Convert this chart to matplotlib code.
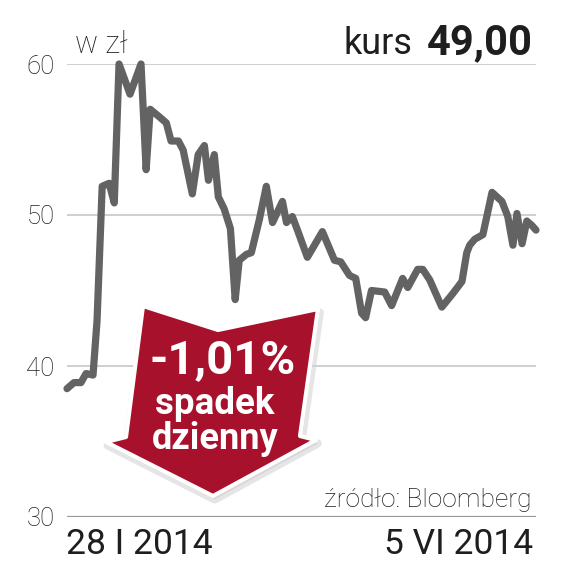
import matplotlib
matplotlib.use('Agg')
import matplotlib.pyplot as plt
from matplotlib.patches import Polygon

# days since 28 I 2014 and closing price (zl)
days = [0, 1.9, 3.8, 5.2, 7.1, 8.2, 9.6, 11.5, 12.9, 14.2, 17.2, 20.2, 21.6, 22.7,
        25.2, 27.1, 28.4, 30.4, 31.7, 34.2, 35.8, 37.5, 38.6, 40.2, 41.3, 42.9,
        44.6, 45.9, 47.0, 49.0, 50.3, 52.5, 54.4, 56.1, 58.8, 59.9, 61.5, 62.9,
        65.6, 69.7, 73.0, 74.7, 77.1, 78.8, 80.4, 81.5, 83.1, 86.7, 88.6, 91.6,
        93.0, 95.7, 97.1, 99.0, 102.3, 105.3, 107.8, 109.1, 109.9, 111.3, 113.5,
        116.0, 118.7, 120.3, 121.7, 122.8, 124.2, 125.5, 126.9, 128.0]
price = [38.5, 38.9, 38.9, 39.5, 39.4, 43.0, 51.9, 52.1, 50.8, 60.0, 58.0, 60.0,
         53.0, 57.0, 56.5, 56.1, 54.9, 54.9, 54.3, 51.4, 54.0, 54.6, 52.3, 54.0,
         51.2, 50.4, 49.1, 44.4, 47.0, 47.4, 47.5, 49.7, 51.9, 49.5, 50.9, 49.5,
         49.9, 49.0, 47.2, 48.9, 47.0, 46.9, 46.0, 45.8, 43.5, 43.2, 45.0, 44.9,
         44.0, 45.8, 45.2, 46.4, 46.4, 45.7, 43.9, 44.8, 45.6, 47.5, 48.0, 48.4,
         48.7, 51.5, 50.9, 49.9, 48.0, 50.1, 48.1, 49.6, 49.3, 49.0]

yticks = [30, 40, 50, 60]
date_start = '28 I 2014'
date_end = '5 VI 2014'
last_price = '49,00'
change = '-1,01%'

W = 572.0
def fx(px):
    return px / W
def fy(py):
    return 1 - py / W

fig = plt.figure(figsize=(5.72, 5.72), dpi=100)
ax = fig.add_axes([fx(67), fy(517), fx(536) - fx(67), fy(64) - fy(517)])

for t in yticks[1:]:
    ax.axhline(t, color='#cccccc', lw=1.3, zorder=1)
ax.axhline(30, color='#9a9a9a', lw=1.6, zorder=1)

ax.plot(days, price, color='#636363', lw=5.2, solid_joinstyle='round',
        solid_capstyle='round', zorder=5, clip_on=False)

ax.set_xlim(0, 128)
ax.set_ylim(30, 60)
ax.set_xticks([])
ax.set_yticks(yticks)
ax.set_yticklabels([str(t) for t in yticks], fontsize=18.5, family='Roboto',
                   fontweight='light', color='#1e1e1e')
ax.tick_params(axis='y', length=0, pad=9)
for s in ax.spines.values():
    s.set_visible(False)

# header
fig.text(fx(75), fy(53), 'w zł', fontsize=22, family='Roboto', fontweight='light',
         color='#1e1e1e', ha='left', va='baseline')
fig.text(fx(533), fy(54), last_price, fontsize=30, family='Roboto', fontweight='bold',
         color='#1e1e1e', ha='right', va='baseline')
fig.text(fx(412), fy(54), 'kurs', fontsize=26, family='Roboto',
         color='#1e1e1e', ha='right', va='baseline')

# bottom dates and source
fig.text(fx(66), fy(554), date_start, fontsize=25.5, family='Roboto',
         color='#1e1e1e', ha='left', va='baseline')
fig.text(fx(533), fy(554), date_end, fontsize=25.5, family='Roboto',
         color='#1e1e1e', ha='right', va='baseline')
fig.text(fx(531), fy(507), 'źródło: Bloomberg', fontsize=19, family='Roboto',
         fontweight='light', color='#1e1e1e', ha='right', va='baseline')

# red arrow callout
arrow_px = [(143, 306), (218, 330), (318, 309), (300, 436), (316, 440),
            (213, 496), (106, 442), (126, 437)]
pts = [(fx(x), fy(y)) for x, y in arrow_px]
shadow = Polygon([(x + 0.003, y - 0.006) for x, y in pts], closed=True,
                 transform=fig.transFigure, facecolor='#bbbbbb', edgecolor='#d5d5d5',
                 lw=6, joinstyle='round', alpha=0.6, zorder=8)
fig.patches.append(shadow)
arrow = Polygon(pts, closed=True, transform=fig.transFigure, facecolor='#a8112c',
                edgecolor='white', lw=3, joinstyle='round', zorder=9)
fig.patches.append(arrow)

fig.text(fx(223), fy(373), change, fontsize=34, family='Roboto', fontweight='bold',
         color='white', ha='center', va='baseline', zorder=10)
fig.text(fx(215), fy(414), 'spadek', fontsize=26.5, family='Roboto', fontweight='bold',
         color='white', ha='center', va='baseline', zorder=10)
fig.text(fx(215), fy(449), 'dzienny', fontsize=26, family='Roboto', fontweight='bold',
         color='white', ha='center', va='baseline', zorder=10)

fig.savefig('out.png', dpi=100, facecolor='white')
